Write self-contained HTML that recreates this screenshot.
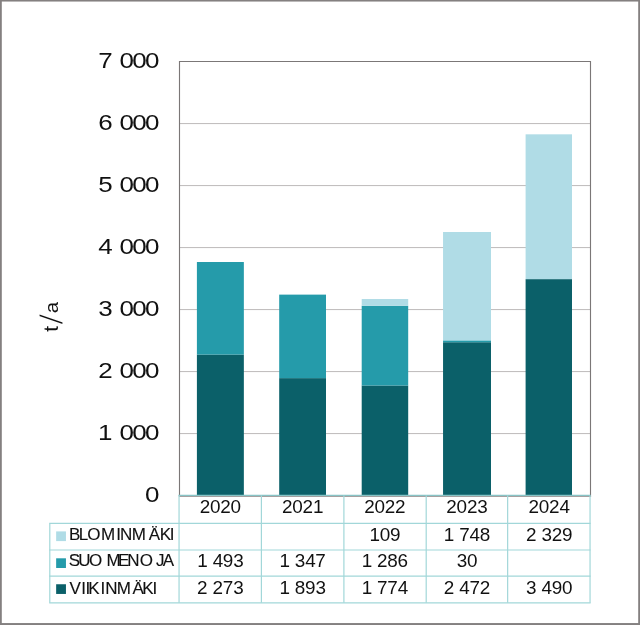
<!DOCTYPE html>
<html lang="fi"><head><meta charset="utf-8"><title>t/a – BLOMINMÄKI, SUOMENOJA, VIIKINMÄKI</title>
<style>html,body{margin:0;padding:0;background:#fff}body{width:640px;height:625px;overflow:hidden}svg{display:block}text{font-family:"Liberation Sans",sans-serif;fill:#111;stroke:#fff;stroke-width:0px;white-space:pre}</style></head><body>
<svg width="640" height="625" viewBox="0 0 640 625">
<rect x="0" y="0" width="640" height="625" fill="#fff"/>
<rect x="0" y="0" width="1.8" height="625" fill="#848080"/><rect x="638.2" y="0" width="1.8" height="625" fill="#848080"/><rect x="0" y="0" width="640" height="1.55" fill="#848080"/><rect x="0" y="623.05" width="640" height="1.95" fill="#848080"/>
<rect x="179.5" y="433.00" width="411.00" height="1.08" fill="#c2bfbf"/>
<rect x="179.5" y="371.00" width="411.00" height="1.08" fill="#c2bfbf"/>
<rect x="179.5" y="309.00" width="411.00" height="1.08" fill="#c2bfbf"/>
<rect x="179.5" y="247.00" width="411.00" height="1.08" fill="#c2bfbf"/>
<rect x="179.5" y="185.00" width="411.00" height="1.08" fill="#c2bfbf"/>
<rect x="179.5" y="123.00" width="411.00" height="1.08" fill="#c2bfbf"/>
<rect x="196.90" y="354.57" width="46.95" height="140.93" fill="#0b6069"/>
<rect x="196.90" y="262.01" width="46.95" height="92.57" fill="#259baa"/>
<rect x="279.20" y="378.13" width="46.80" height="117.37" fill="#0b6069"/>
<rect x="279.20" y="294.62" width="46.80" height="83.51" fill="#259baa"/>
<rect x="361.70" y="385.51" width="46.50" height="109.99" fill="#0b6069"/>
<rect x="361.70" y="305.78" width="46.50" height="79.73" fill="#259baa"/>
<rect x="361.70" y="299.02" width="46.50" height="6.76" fill="#b0dce6"/>
<rect x="443.05" y="342.24" width="47.95" height="153.26" fill="#0b6069"/>
<rect x="443.05" y="340.38" width="47.95" height="1.86" fill="#259baa"/>
<rect x="443.05" y="232.00" width="47.95" height="108.38" fill="#b0dce6"/>
<rect x="525.60" y="279.12" width="46.40" height="216.38" fill="#0b6069"/>
<rect x="525.60" y="134.32" width="46.40" height="144.80" fill="#b0dce6"/>
<path d="M179.5 497 V61.5 H590.5 V497" fill="none" stroke="#7b7777" stroke-width="1.12"/>
<rect x="178.95" y="496.0" width="412.10" height="1.0" fill="#a5a1a1"/>
<line x1="178.45000000000002" x2="590.65" y1="495.4" y2="495.4" stroke="#88c4c6" stroke-width="1.1"/>
<line x1="49.199999999999996" x2="590.65" y1="523.4" y2="523.4" stroke="#a2d7d9" stroke-width="1.2"/>
<line x1="49.199999999999996" x2="590.65" y1="550.0" y2="550.0" stroke="#a2d7d9" stroke-width="1.2"/>
<line x1="49.199999999999996" x2="590.65" y1="576.2" y2="576.2" stroke="#a2d7d9" stroke-width="1.2"/>
<line x1="49.199999999999996" x2="590.65" y1="602.8" y2="602.8" stroke="#a2d7d9" stroke-width="1.2"/>
<line x1="49.8" x2="49.8" y1="523.4" y2="602.8" stroke="#a2d7d9" stroke-width="1.2"/>
<line x1="179.05" x2="179.05" y1="495.4" y2="602.8" stroke="#a2d7d9" stroke-width="1.2"/>
<line x1="261.40" x2="261.40" y1="495.4" y2="602.8" stroke="#a2d7d9" stroke-width="1.2"/>
<line x1="343.90" x2="343.90" y1="495.4" y2="602.8" stroke="#a2d7d9" stroke-width="1.2"/>
<line x1="426.20" x2="426.20" y1="495.4" y2="602.8" stroke="#a2d7d9" stroke-width="1.2"/>
<line x1="507.65" x2="507.65" y1="495.4" y2="602.8" stroke="#a2d7d9" stroke-width="1.2"/>
<line x1="590.05" x2="590.05" y1="495.4" y2="602.8" stroke="#a2d7d9" stroke-width="1.2"/>
<rect x="56.15" y="531.4" width="9.8" height="9.7" fill="#b0dce6"/>
<rect x="56.15" y="558.3" width="9.8" height="9.7" fill="#259baa"/>
<rect x="56.15" y="584.25" width="9.8" height="9.7" fill="#0b6069"/>
<text transform="translate(0 502.35) scale(1.15 1)" x="126.15" y="0" font-size="22.6" style="stroke-width:0px">0</text>
<text transform="translate(0 440.35) scale(1.15 1)" x="85.24 94.56 103.89 115.02 126.15" y="0" font-size="22.6" style="stroke-width:0px">1 000</text>
<text transform="translate(0 378.35) scale(1.15 1)" x="85.46 94.67 103.89 115.02 126.15" y="0" font-size="22.6" style="stroke-width:0px">2 000</text>
<text transform="translate(0 316.35) scale(1.15 1)" x="85.52 94.71 103.89 115.02 126.15" y="0" font-size="22.6" style="stroke-width:0px">3 000</text>
<text transform="translate(0 254.35) scale(1.15 1)" x="85.52 94.71 103.89 115.02 126.15" y="0" font-size="22.6" style="stroke-width:0px">4 000</text>
<text transform="translate(0 192.35) scale(1.15 1)" x="85.48 94.69 103.89 115.02 126.15" y="0" font-size="22.6" style="stroke-width:0px">5 000</text>
<text transform="translate(0 130.35) scale(1.15 1)" x="85.38 94.63 103.89 115.02 126.15" y="0" font-size="22.6" style="stroke-width:0px">6 000</text>
<text transform="translate(0 68.35) scale(1.15 1)" x="85.45 94.67 103.89 115.02 126.15" y="0" font-size="22.6" style="stroke-width:0px">7 000</text>
<text transform="translate(0 513.25) scale(1.08 1)" x="184.90 194.44 203.98 213.51" y="0" font-size="17.5">2020</text>
<text transform="translate(0 567.00) scale(1.08 1)" x="182.65 189.77 196.88 206.36 215.95" y="0" font-size="17.5">1 493</text>
<text transform="translate(0 593.75) scale(1.08 1)" x="182.52 189.67 196.82 206.35 215.95" y="0" font-size="17.5">2 273</text>
<text transform="translate(0 513.25) scale(1.08 1)" x="261.01 270.55 280.09 289.76" y="0" font-size="17.5">2021</text>
<text transform="translate(0 567.00) scale(1.08 1)" x="258.76 265.88 272.99 282.53 292.00" y="0" font-size="17.5">1 347</text>
<text transform="translate(0 593.75) scale(1.08 1)" x="258.76 265.85 272.94 282.47 292.06" y="0" font-size="17.5">1 893</text>
<text transform="translate(0 513.25) scale(1.08 1)" x="337.22 346.76 356.29 365.83" y="0" font-size="17.5">2022</text>
<text transform="translate(0 540.75) scale(1.08 1)" x="342.12 351.52 361.06" y="0" font-size="17.5">109</text>
<text transform="translate(0 567.00) scale(1.08 1)" x="334.97 342.05 349.14 358.68 368.15" y="0" font-size="17.5">1 286</text>
<text transform="translate(0 593.75) scale(1.08 1)" x="334.97 342.05 349.13 358.67 368.27" y="0" font-size="17.5">1 774</text>
<text transform="translate(0 513.25) scale(1.08 1)" x="413.24 422.77 432.31 441.90" y="0" font-size="17.5">2023</text>
<text transform="translate(0 540.75) scale(1.08 1)" x="410.99 418.07 425.15 434.75 444.23" y="0" font-size="17.5">1 748</text>
<text transform="translate(0 567.00) scale(1.08 1)" x="422.83 432.31" y="0" font-size="17.5">30</text>
<text transform="translate(0 593.75) scale(1.08 1)" x="410.85 418.03 425.21 434.69 444.23" y="0" font-size="17.5">2 472</text>
<text transform="translate(0 513.25) scale(1.08 1)" x="489.35 498.88 508.42 518.01" y="0" font-size="17.5">2024</text>
<text transform="translate(0 540.75) scale(1.08 1)" x="486.96 494.14 501.32 510.81 520.34" y="0" font-size="17.5">2 329</text>
<text transform="translate(0 593.75) scale(1.08 1)" x="487.02 494.17 501.32 510.81 520.34" y="0" font-size="17.5">3 490</text>
<text transform="translate(0 539.75) scale(1.0 1)" x="69.08 78.81 87.20 100.92 116.29 120.00 131.67 148.63 159.64 169.64" y="0" font-size="17.0" style="stroke:#111;stroke-width:0.12px">BLOMINMÄKI</text>
<text transform="translate(0 566.45) scale(1.0 1)" x="68.83 78.26 89.00 106.52 118.00 127.30 139.80 155.94 162.68" y="0" font-size="17.0" style="stroke:#111;stroke-width:0.12px">SUOMENOJA</text>
<text transform="translate(0 593.50) scale(1.0 1)" x="69.53 81.29 85.44 88.24 100.54 105.15 116.72 132.48 142.14 152.54" y="0" font-size="17.0" style="stroke:#111;stroke-width:0.12px">VIIKINMÄKI</text>
<g transform="translate(58.0 332.0) rotate(-90)">
<text y="0"><tspan x="0.29" font-size="19.6" textLength="5.75" lengthAdjust="spacingAndGlyphs">t</tspan><tspan x="6.90" dy="5.0" font-size="32.3" style="stroke-width:1.1px" textLength="11.49" lengthAdjust="spacingAndGlyphs">/</tspan><tspan x="18.65" dy="-5.0" font-size="19.2" textLength="11.31" lengthAdjust="spacingAndGlyphs">a</tspan></text>
</g>
</svg></body></html>
